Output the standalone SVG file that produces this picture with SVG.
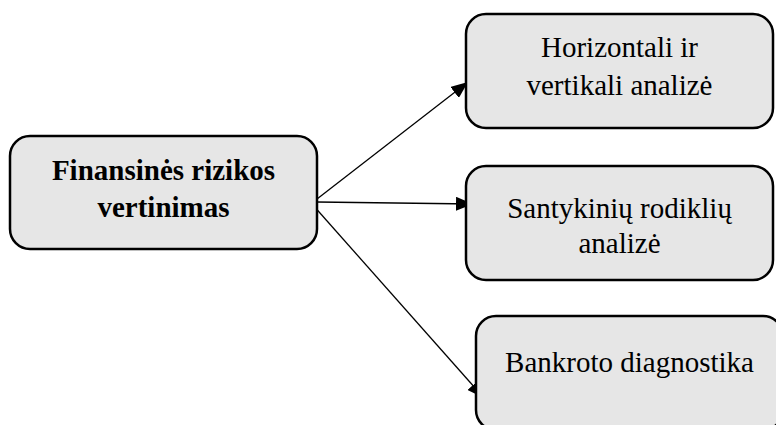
<svg xmlns="http://www.w3.org/2000/svg" width="776" height="425" viewBox="0 0 776 425">
  <defs>
    <marker id="arrow" viewBox="0 0 17 14" refX="17" refY="7" markerWidth="17" markerHeight="14" markerUnits="userSpaceOnUse" orient="auto">
      <path d="M0,0 L17,7 L0,14 Z" fill="#000"/>
    </marker>
    <style>
      .box { fill: #e6e6e6; stroke: #000; stroke-width: 2.5; }
      .label { font-family: "Liberation Serif", "Times New Roman", serif; font-size: 29px; fill: #000; text-anchor: middle; }
      .bold { font-weight: bold; font-size: 29px; }
      .link { stroke: #000; stroke-width: 1.3; fill: none; marker-end: url(#arrow); }
    </style>
  </defs>
  <rect width="776" height="425" fill="#fff"/>

  <g id="connectors">
    <line class="link" x1="317" y1="199" x2="468" y2="82"/>
    <line class="link" x1="317" y1="202" x2="473" y2="204"/>
    <line class="link" x1="312" y1="204" x2="484" y2="398"/>
  </g>

  <g id="node-finansines-rizikos">
    <rect class="box" x="10" y="136" width="307" height="113" rx="20"/>
    <text class="label bold" x="163.5" y="180">Finansinės rizikos</text>
    <text class="label bold" x="163.5" y="217">vertinimas</text>
  </g>

  <g id="node-horizontali">
    <rect class="box" x="466" y="14" width="307" height="114" rx="20"/>
    <text class="label" x="619.5" y="57">Horizontali ir</text>
    <text class="label" x="619.5" y="95">vertikali analizė</text>
  </g>

  <g id="node-santykiniu">
    <rect class="box" x="466" y="166" width="307" height="114" rx="20"/>
    <text class="label" x="619.5" y="218">Santykinių rodiklių</text>
    <text class="label" x="619.5" y="253">analizė</text>
  </g>

  <g id="node-bankroto">
    <rect class="box" x="476" y="316" width="307" height="114" rx="20"/>
    <text class="label" x="629.5" y="372">Bankroto diagnostika</text>
  </g>
</svg>
